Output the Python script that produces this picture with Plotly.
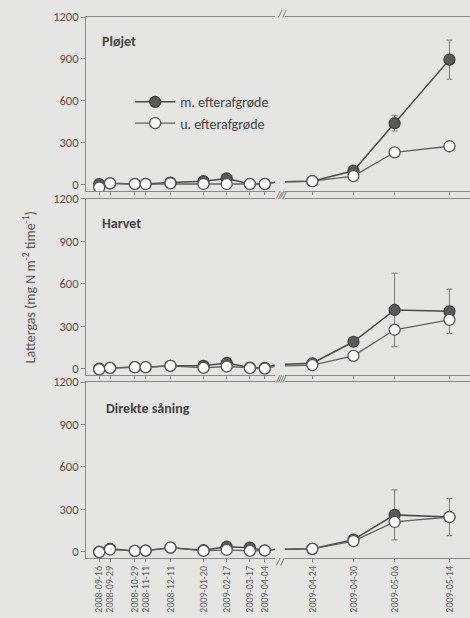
import plotly.graph_objects as go

dates = ["2008-09-16", "2008-09-29", "2008-10-29", "2008-11-11", "2008-12-11",
         "2009-01-20", "2009-02-17", "2009-03-17", "2009-04-04",
         "2009-04-24", "2009-04-30", "2009-05-06", "2009-05-14"]

panels = ["Pløjet", "Harvet", "Direkte såning"]

# m. efterafgrøde (with catch crop)
ploj_m = [5, 10, 5, 5, 15, 25, 45, 5, 5, 25, 100, 440, 895]
harv_m = [0, 5, 10, 10, 20, 20, 40, 8, 5, 38, 190, 415, 405]
dir_m = [0, 20, 5, 7, 28, 10, 35, 28, 8, 20, 85, 260, 245]
# u. efterafgrøde (without catch crop)
ploj_u = [-20, 10, 5, 5, 10, 5, 5, 5, 5, 25, 62, 232, 275]
harv_u = [-5, 5, 10, 10, 20, 5, 15, 3, 0, 25, 90, 275, 345]
dir_u = [-3, 15, 5, 7, 28, 5, 12, 5, 8, 20, 75, 210, 245]
# error bars (m. efterafgrøde)
ploj_m_err = [0, 0, 0, 0, 0, 0, 0, 0, 0, 0, 0, 56, 140]
harv_m_err = [0, 0, 0, 0, 0, 0, 0, 0, 0, 0, 0, 260, 157]
dir_m_err = [0, 0, 0, 0, 0, 0, 0, 0, 0, 0, 0, 177, 132]

series_m = [ploj_m, harv_m, dir_m]
series_u = [ploj_u, harv_u, dir_u]
errors_m = [ploj_m_err, harv_m_err, dir_m_err]

y_ticks = [0, 300, 600, 900, 1200]
y_range = [-45, 1200]
left_range = ["2008-08-31", "2009-04-16"]
right_range = ["2009-04-20", "2009-05-17"]

FONT = "Carlito, Lato, sans-serif"
BG = "#e5e5e3"
DARK = "#4a4a4a"
MID = "#606060"

row_domains = [[0.6784, 1.0], [0.3383, 0.6636], [0.0, 0.3253]]
col_domains = [[0.0, 0.4914], [0.518, 1.0]]

fig = go.Figure()
layout = {}

for r in range(3):
    for c in range(2):
        idx = r * 2 + c + 1
        xname = "x" if idx == 1 else f"x{idx}"
        yname = "y" if idx == 1 else f"y{idx}"
        xkey = "xaxis" if idx == 1 else f"xaxis{idx}"
        ykey = "yaxis" if idx == 1 else f"yaxis{idx}"
        show_lbl = (r == 2)
        layout[xkey] = dict(
            domain=col_domains[c], anchor=yname, type="date",
            range=left_range if c == 0 else right_range,
            tickmode="array", tickvals=dates,
            ticktext=dates if show_lbl else [""] * len(dates),
            showticklabels=show_lbl, tickangle=-90,
            tickfont=dict(family=FONT, size=10, color="#666"),
            ticks="outside", ticklen=3, tickcolor="#888",
            showline=True, linecolor="#8a8a8a", linewidth=1, mirror=True,
            showgrid=False, zeroline=False,
        )
        layout[ykey] = dict(
            domain=row_domains[r], anchor=xname, range=y_range,
            tickmode="array", tickvals=y_ticks,
            showticklabels=(c == 0),
            tickfont=dict(family=FONT, size=12.5, color="#555"),
            ticks="outside" if c == 0 else "", ticklen=4, tickcolor="#888",
            showline=(c == 0), linecolor="#8a8a8a", linewidth=1,
            showgrid=False, zeroline=False,
        )
        fig.add_trace(go.Scatter(
            x=dates, y=series_m[r], xaxis=xname, yaxis=yname,
            mode="lines+markers", name="m. efterafgrøde",
            legendgroup="m", showlegend=(idx == 1),
            line=dict(color=DARK, width=1.5),
            marker=dict(size=11, color="#5a5a5a", line=dict(color="#3a3a3a", width=1.2)),
            error_y=dict(type="data", array=errors_m[r], visible=True,
                         color="#7a7a7a", thickness=1, width=3),
        ))
        fig.add_trace(go.Scatter(
            x=dates, y=series_u[r], xaxis=xname, yaxis=yname,
            mode="lines+markers", name="u. efterafgrøde",
            legendgroup="u", showlegend=(idx == 1),
            line=dict(color=MID, width=1.3),
            marker=dict(size=11, color="white", line=dict(color="#555", width=1.3)),
        ))

annotations = []
title_pos = [(0.036, 0.954), (0.036, 0.619), (0.047, 0.277)]
for (tx, ty), name in zip(title_pos, panels):
    annotations.append(dict(
        x=tx, y=ty, xref="paper", yref="paper", xanchor="left", yanchor="middle",
        text=f"<b>{name}</b>", showarrow=False,
        font=dict(family=FONT, size=14, color="#444"),
    ))
# axis break marks
for r in range(3):
    top, bottom = row_domains[r][1], row_domains[r][0]
    annotations.append(dict(
        x=0.510, y=top, xref="paper", yref="paper", xanchor="center", yanchor="bottom",
        text="//", showarrow=False, yshift=-5,
        font=dict(family=FONT, size=11, color="#666"),
    ))
    annotations.append(dict(
        x=0.504, y=bottom, xref="paper", yref="paper", xanchor="center", yanchor="top",
        text="//", showarrow=False, yshift=5,
        font=dict(family=FONT, size=11, color="#666"),
    ))
annotations.append(dict(
    x=-0.146, y=0.5, xref="paper", yref="paper", xanchor="center", yanchor="middle",
    text="Lattergas (mg N m<sup>-2</sup> time<sup>-1</sup>)", textangle=-90,
    showarrow=False, font=dict(family=FONT, size=14, color="#555"),
))

fig.update_layout(
    **layout,
    width=470, height=618,
    margin=dict(l=86, r=0, t=17, b=60),
    paper_bgcolor=BG, plot_bgcolor=BG,
    annotations=annotations,
    legend=dict(x=0.115, y=0.872, xanchor="left", yanchor="top",
                bgcolor="rgba(0,0,0,0)",
                font=dict(family=FONT, size=14, color="#444"),
                tracegroupgap=0, itemwidth=40),
    showlegend=True,
)

fig.write_html("out.html", post_script="document.body.style.margin='0';",
               config={"displayModeBar": False})
